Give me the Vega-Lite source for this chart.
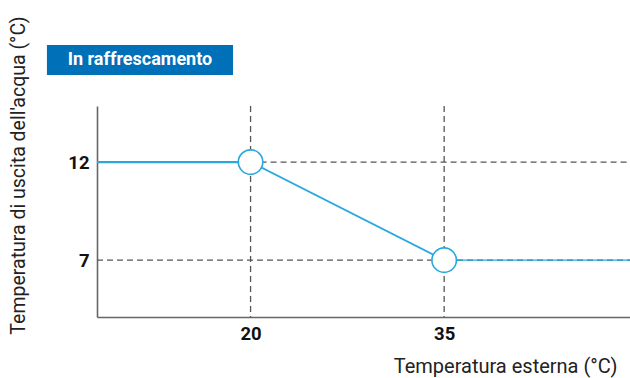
{
  "$schema": "https://vega.github.io/schema/vega-lite/v6.json",
  "width": 533,
  "height": 211,
  "autosize": {"type": "none"},
  "padding": {"left": 97, "top": 106, "right": 0, "bottom": 61},
  "background": "white",
  "config": {"view": {"stroke": null}, "font": "Roboto"},
  "datasets": {
    "curve": [
      {"t": 8.1, "w": 12, "seg": "flat"},
      {"t": 20, "w": 12, "seg": "flat"},
      {"t": 20, "w": 12, "seg": "slope"},
      {"t": 35, "w": 7, "seg": "slope"},
      {"t": 35, "w": 7, "seg": "flat2"},
      {"t": 49.4, "w": 7, "seg": "flat2"}
    ],
    "knots": [{"t": 20, "w": 12}, {"t": 35, "w": 7}],
    "vrules": [{"t": 20}, {"t": 35}],
    "hrules": [{"w": 12, "from": 20, "to": 49.4}, {"w": 7, "from": 8.1, "to": 49.4}],
    "badge": [{"label": "In raffrescamento"}]
  },
  "layer": [
    {
      "data": {"name": "vrules"},
      "mark": {"type": "rule", "color": "#555555", "strokeDash": [6, 4], "strokeWidth": 1.3},
      "encoding": {
        "x": {"field": "t", "type": "quantitative"},
        "y": {"datum": 14.86},
        "y2": {"datum": 4.1}
      }
    },
    {
      "data": {"name": "hrules"},
      "mark": {"type": "rule", "color": "#555555", "strokeDash": [6, 4], "strokeWidth": 1.3},
      "encoding": {
        "y": {"field": "w", "type": "quantitative"},
        "x": {"field": "from", "type": "quantitative"},
        "x2": {"field": "to"}
      }
    },
    {
      "data": {"name": "curve"},
      "mark": {"type": "line", "color": "#29a8e0", "clip": true},
      "encoding": {
        "x": {
          "field": "t", "type": "quantitative",
          "scale": {"domain": [8.1, 49.4], "nice": false, "zero": false},
          "axis": {
            "values": [20, 35],
            "title": "Temperatura esterna (°C)",
            "grid": false, "ticks": false,
            "domainColor": "#666666", "domainWidth": 1.6,
            "labelFont": "Roboto", "labelFontWeight": "bold", "labelFontSize": 18.5,
            "labelColor": "#111111", "labelPadding": 7,
            "titleFont": "Roboto", "titleFontWeight": "normal", "titleFontSize": 20,
            "titleColor": "#222222", "titleAlign": "right", "titleAnchor": "end",
            "titleX": 520, "titleY": 55, "titleBaseline": "alphabetic"
          }
        },
        "y": {
          "field": "w", "type": "quantitative",
          "scale": {"domain": [4.1, 14.86], "nice": false, "zero": false},
          "axis": {
            "values": [7, 12],
            "title": "Temperatura di uscita dell'acqua (°C)",
            "grid": false, "ticks": false,
            "domainColor": "#666666", "domainWidth": 1.6,
            "labelFont": "Roboto", "labelFontWeight": "bold", "labelFontSize": 18.5,
            "labelColor": "#111111", "labelPadding": 8,
            "titleFont": "Roboto", "titleFontWeight": "normal", "titleFontSize": 19.5,
            "titleColor": "#222222", "titleAngle": -90,
            "titleX": -88, "titleY": 69, "titleAlign": "center", "titleBaseline": "top"
          }
        },
        "detail": {"field": "seg"},
        "strokeWidth": {
          "field": "seg", "type": "nominal",
          "scale": {"domain": ["flat", "slope", "flat2"], "range": [2.2, 1.4, 2.2]},
          "legend": null
        }
      }
    },
    {
      "data": {"name": "knots"},
      "mark": {"type": "point", "shape": "circle", "filled": true, "fill": "white", "stroke": "#29a8e0", "strokeWidth": 1.6, "size": 600, "opacity": 1},
      "encoding": {
        "x": {"field": "t", "type": "quantitative"},
        "y": {"field": "w", "type": "quantitative"}
      }
    },
    {
      "data": {"name": "badge"},
      "mark": {"type": "rect", "color": "#0070b8", "clip": false},
      "encoding": {
        "x": {"datum": 4.22},
        "x2": {"datum": 18.64},
        "y": {"datum": 17.97},
        "y2": {"datum": 16.44}
      }
    },
    {
      "data": {"name": "badge"},
      "mark": {"type": "text", "color": "white", "font": "Roboto", "fontWeight": "bold", "fontSize": 18, "align": "center", "baseline": "middle", "clip": false},
      "encoding": {
        "text": {"field": "label"},
        "x": {"datum": 11.43},
        "y": {"datum": 17.2}
      }
    }
  ]
}
